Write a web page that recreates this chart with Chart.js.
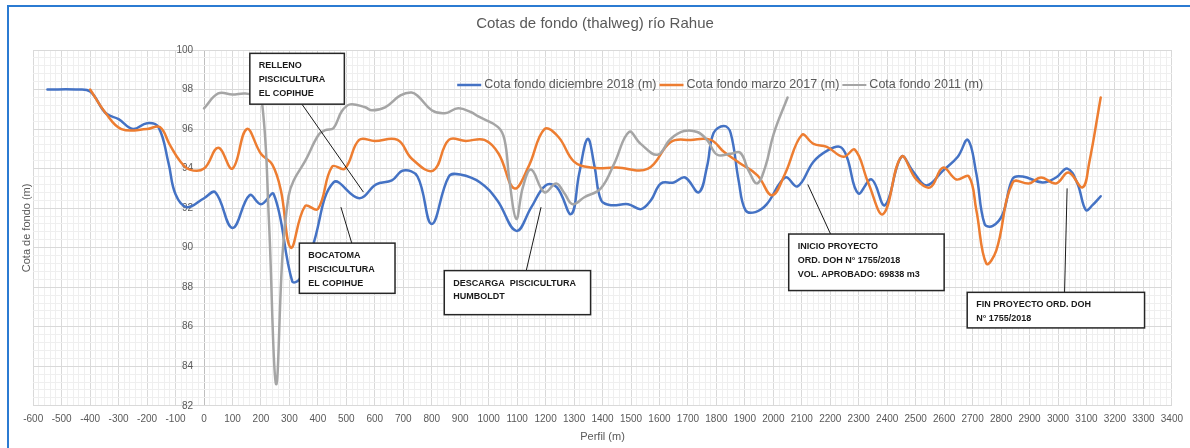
<!DOCTYPE html>
<html>
<head>
<meta charset="utf-8">
<title>Cotas de fondo río Rahue</title>
<script src="https://cdn.jsdelivr.net/npm/chart.js@4.4.1/dist/chart.umd.min.js"></script>
<style>
  html, body { margin: 0; padding: 0; background: #fff; overflow: hidden; }
  #marco { position: absolute; left: 7px; top: 5px; width: 1181px; height: 441px;
           border-left: 2px solid #2b7bd2; border-top: 2px solid #2b7bd2; }
  #caja { position: absolute; left: 0; top: 0; width: 1190px; height: 448px; }
</style>
</head>
<body>
<div id="marco"></div>
<div id="caja"><canvas id="graficoRahue"></canvas></div>
<script>
// series (perfil en m, cota en m)
const perfil2018 = [-550, -450, -400, -345, -300, -250, -200, -160, -125, -100, -60, 0, 40, 100, 160, 200, 245, 310, 335, 380,
  455, 545, 605, 660, 700, 750, 800, 860, 900, 970, 1030, 1097, 1150, 1200, 1240, 1290, 1318, 1348, 1372, 1395,
  1430, 1490, 1535, 1570, 1605, 1650, 1690, 1738, 1767, 1790, 1826, 1850, 1878, 1902, 1937, 1977, 2042, 2085, 2141, 2188,
  2234, 2258, 2298, 2345, 2392, 2450, 2491, 2538, 2596, 2648, 2683, 2713, 2742, 2771, 2806, 2841, 2876, 2946, 2993, 3033,
  3068, 3098, 3121, 3150];
const cota2018 = [98.0, 98.0, 97.9, 96.8, 96.5, 96.0, 96.3, 96.1, 94.3, 92.7, 92.05, 92.5, 92.8, 91.0, 92.65, 92.2, 92.7, 88.3, 88.4, 90.0,
  93.3, 92.5, 93.2, 93.4, 93.9, 93.6, 91.2, 93.6, 93.7, 93.3, 92.4, 90.85, 92.05, 93.15, 93.05, 91.7, 93.75, 95.5, 94.1, 92.4,
  92.15, 92.2, 91.95, 92.4, 93.25, 93.3, 93.55, 92.8, 94.1, 95.8, 96.15, 95.8, 93.4, 91.9, 91.8, 92.2, 93.55, 93.1, 94.35, 94.9,
  95.1, 94.6, 92.75, 93.45, 92.15, 94.6, 93.85, 93.15, 93.9, 94.6, 95.45, 93.75, 91.2, 91.1, 91.7, 93.5, 93.6, 93.3, 93.55, 94.0,
  93.25, 91.9, 92.15, 92.6];

const perfil2017 = [-400, -345, -290, -200, -155, -120, -85, -50, 0, 50, 100, 150, 200, 240, 270, 305, 355, 400, 450, 495,
  545, 600, 680, 730, 805, 860, 920, 985, 1035, 1090, 1140, 1196, 1245, 1300, 1360, 1450, 1560, 1640, 1710, 1780,
  1826, 1880, 1945, 1995, 2040, 2100, 2141, 2188, 2246, 2287, 2333, 2386, 2450, 2502, 2551, 2596, 2643, 2687, 2713, 2748,
  2783, 2841, 2899, 2940, 2993, 3037, 3086, 3109, 3150];
const cota2017 = [98.0, 96.8, 96.0, 96.0, 96.1, 95.2, 94.4, 93.95, 94.0, 95.05, 94.0, 96.0, 94.75, 94.2, 92.9, 90.0, 92.1, 91.95, 94.1, 94.0,
  95.45, 95.4, 95.45, 94.5, 93.9, 95.45, 95.4, 95.45, 94.75, 93.0, 94.1, 96.0, 95.6, 94.35, 94.05, 94.05, 94.0, 95.35, 95.45, 95.45,
  94.85, 94.3, 93.65, 92.65, 93.7, 95.7, 95.25, 95.1, 94.6, 94.95, 93.3, 91.7, 94.6, 93.45, 93.05, 94.05, 93.45, 93.6, 91.9, 89.2,
  89.85, 93.3, 93.25, 93.55, 93.25, 93.8, 93.05, 94.25, 97.6];

const perfil2011 = [0, 50, 100, 145, 180, 205, 228, 253, 276, 297, 315, 356, 402, 426, 455, 484, 513, 566, 590, 636,
  690, 729, 753, 800, 846, 893, 939, 962, 1033, 1056, 1073, 1097, 1120, 1149, 1196, 1237, 1266, 1295, 1336, 1394,
  1441, 1493, 1534, 1593, 1639, 1686, 1733, 1767, 1803, 1850, 1884, 1913, 1943, 1972, 2001, 2050];
const cota2011 = [97.05, 97.8, 97.75, 97.8, 97.65, 97.2, 91.4, 83.1, 89.7, 92.6, 93.4, 94.4, 95.7, 95.95, 96.05, 96.9, 97.25, 97.1, 96.95, 97.1,
  97.7, 97.85, 97.65, 96.95, 96.8, 97.05, 96.85, 96.65, 96.1, 95.45, 93.4, 91.45, 93.05, 93.95, 92.8, 93.25, 92.75, 92.2, 92.55, 93.0,
  94.25, 95.85, 95.25, 94.7, 95.5, 95.9, 95.85, 95.45, 94.7, 94.75, 94.8, 93.9, 93.25, 94.1, 95.75, 97.6];

const nombres = ['Cota fondo diciembre 2018 (m)', 'Cota fondo marzo 2017 (m)', 'Cota fondo 2011 (m)'];
const colores = ['#4472c4', '#ed7d31', '#a5a5a5'];
const rangoX = [-600, 3400];
const rangoY = [82, 100];

// cuadros de texto del grafico (caja y flecha en unidades de los ejes)
const notas = [
  { texto: ['RELLENO', 'PISCICULTURA', 'EL COPIHUE'], caja: [161, 99.83, 493, 97.26], flecha: [344, 97.26, 560, 92.81] },
  { texto: ['BOCATOMA', 'PISCICULTURA', 'EL COPIHUE'], caja: [335, 90.23, 671, 87.69], flecha: [519, 90.23, 481, 92.05] },
  { texto: ['DESCARGA  PISCICULTURA', 'HUMBOLDT'], caja: [844, 88.84, 1358, 86.61], flecha: [1132, 88.84, 1184, 92.05] },
  { texto: ['INICIO PROYECTO', 'ORD. DOH N° 1755/2018', 'VOL. APROBADO: 69838 m3'], caja: [2054, 90.69, 2600, 87.83], flecha: [2201, 90.69, 2121, 93.2] },
  { texto: ['FIN PROYECTO ORD. DOH', 'N° 1755/2018'], caja: [2681, 87.74, 3304, 85.94], flecha: [3023, 87.74, 3032, 93.0] }
];

const fuente = "'Liberation Sans', Arial, sans-serif";

function puntos(xs, ys) {
  return xs.map((x, i) => ({ x: x, y: ys[i] }));
}

function esPar(v) {
  return Math.abs(v / 2 - Math.round(v / 2)) < 1e-6;
}

// leyenda dibujada dentro del area del grafico
const leyenda = {
  id: 'leyenda',
  afterDraw(chart) {
    const ctx = chart.ctx;
    let x = chart.chartArea.left + 424;
    const y = chart.chartArea.top + 35;
    ctx.save();
    ctx.font = '12.5px ' + fuente;
    ctx.textBaseline = 'middle';
    nombres.forEach((n, i) => {
      ctx.strokeStyle = colores[i];
      ctx.lineWidth = i == 2 ? 2 : 2.5;
      ctx.beginPath();
      ctx.moveTo(x, y);
      ctx.lineTo(x + 24, y);
      ctx.stroke();
      ctx.fillStyle = '#595959';
      ctx.fillText(n, x + 27, y);
      x += 27 + ctx.measureText(n).width + 3;
    });
    ctx.restore();
  }
};

const cuadros = {
  id: 'cuadros',
  afterDatasetsDraw(chart) {
    const ctx = chart.ctx;
    const sx = chart.scales.x, sy = chart.scales.y;
    ctx.save();
    notas.forEach(n => {
      ctx.strokeStyle = '#1a1a1a';
      ctx.lineWidth = 1;
      ctx.beginPath();
      ctx.moveTo(sx.getPixelForValue(n.flecha[0]), sy.getPixelForValue(n.flecha[1]));
      ctx.lineTo(sx.getPixelForValue(n.flecha[2]), sy.getPixelForValue(n.flecha[3]));
      ctx.stroke();
      const x1 = sx.getPixelForValue(n.caja[0]), y1 = sy.getPixelForValue(n.caja[1]);
      const x2 = sx.getPixelForValue(n.caja[2]), y2 = sy.getPixelForValue(n.caja[3]);
      ctx.fillStyle = '#fff';
      ctx.fillRect(x1, y1, x2 - x1, y2 - y1);
      ctx.lineWidth = 1.5;
      ctx.strokeStyle = '#262626';
      ctx.strokeRect(x1, y1, x2 - x1, y2 - y1);
      ctx.fillStyle = '#1a1a1a';
      ctx.font = 'bold 9px ' + fuente;
      ctx.textBaseline = 'middle';
      n.texto.forEach((t, k) => {
        ctx.fillText(t, x1 + 9, y1 + 12.5 + k * 13.8);
      });
    });
    ctx.restore();
  }
};

const ctx = document.getElementById('graficoRahue');

new Chart(ctx, {
  type: 'scatter',
  data: {
    datasets: [
      { label: nombres[0], data: puntos(perfil2018, cota2018), borderColor: colores[0], order: 3 },
      { label: nombres[1], data: puntos(perfil2017, cota2017), borderColor: colores[1], order: 2 },
      { label: nombres[2], data: puntos(perfil2011, cota2011), borderColor: colores[2], order: 1 }
    ]
  },
  options: {
    responsive: true,
    maintainAspectRatio: false,
    animation: false,
    showLine: true,
    layout: { padding: { left: 16, right: 16, top: 5, bottom: 0 } },
    elements: {
      line: { borderWidth: 2.5, tension: 0.4, fill: false, borderCapStyle: 'round', borderJoinStyle: 'round' },
      point: { radius: 0, hoverRadius: 0 }
    },
    plugins: {
      legend: { display: false },
      tooltip: { enabled: false },
      title: {
        display: true,
        text: 'Cotas de fondo (thalweg) río Rahue',
        color: '#595959',
        font: { family: fuente, size: 15, weight: 'normal' },
        padding: { top: 10, bottom: 17 }
      }
    },
    scales: {
      x: {
        type: 'linear',
        min: rangoX[0],
        max: rangoX[1],
        ticks: {
          stepSize: 20,
          autoSkip: false,
          maxRotation: 0,
          padding: 7,
          color: '#595959',
          font: { family: fuente, size: 10 },
          callback: v => (v % 100 === 0 ? String(v) : '')
        },
        grid: {
          drawTicks: false,
          color: c => {
            const v = c.tick ? c.tick.value : 1;
            if (v === 0) return '#bfbfbf';
            return v % 100 === 0 ? '#d9d9d9' : '#efefef';
          }
        },
        border: { display: false },
        title: {
          display: true,
          text: 'Perfil (m)',
          color: '#595959',
          font: { family: fuente, size: 11 },
          padding: { top: -1, bottom: 4 }
        }
      },
      y: {
        type: 'linear',
        position: { x: -38 },
        min: rangoY[0],
        max: rangoY[1],
        ticks: {
          stepSize: 0.4,
          autoSkip: false,
          color: '#595959',
          font: { family: fuente, size: 10 },
          callback: v => (esPar(v) ? String(Math.round(v)) : '')
        },
        grid: {
          drawTicks: false,
          color: c => {
            const v = c.tick ? c.tick.value : 1;
            return esPar(v) ? '#d9d9d9' : '#efefef';
          }
        },
        border: { display: false }
      },
      yTitulo: {
        type: 'linear',
        axis: 'y',
        position: 'left',
        min: rangoY[0],
        max: rangoY[1],
        ticks: { display: false },
        grid: { display: false, drawTicks: false },
        border: { display: false },
        title: {
          display: true,
          text: 'Cota de fondo (m)',
          color: '#595959',
          font: { family: fuente, size: 11 },
          padding: { top: 4, bottom: 0 }
        }
      }
    }
  },
  plugins: [cuadros, leyenda]
});
</script>
</body>
</html>
